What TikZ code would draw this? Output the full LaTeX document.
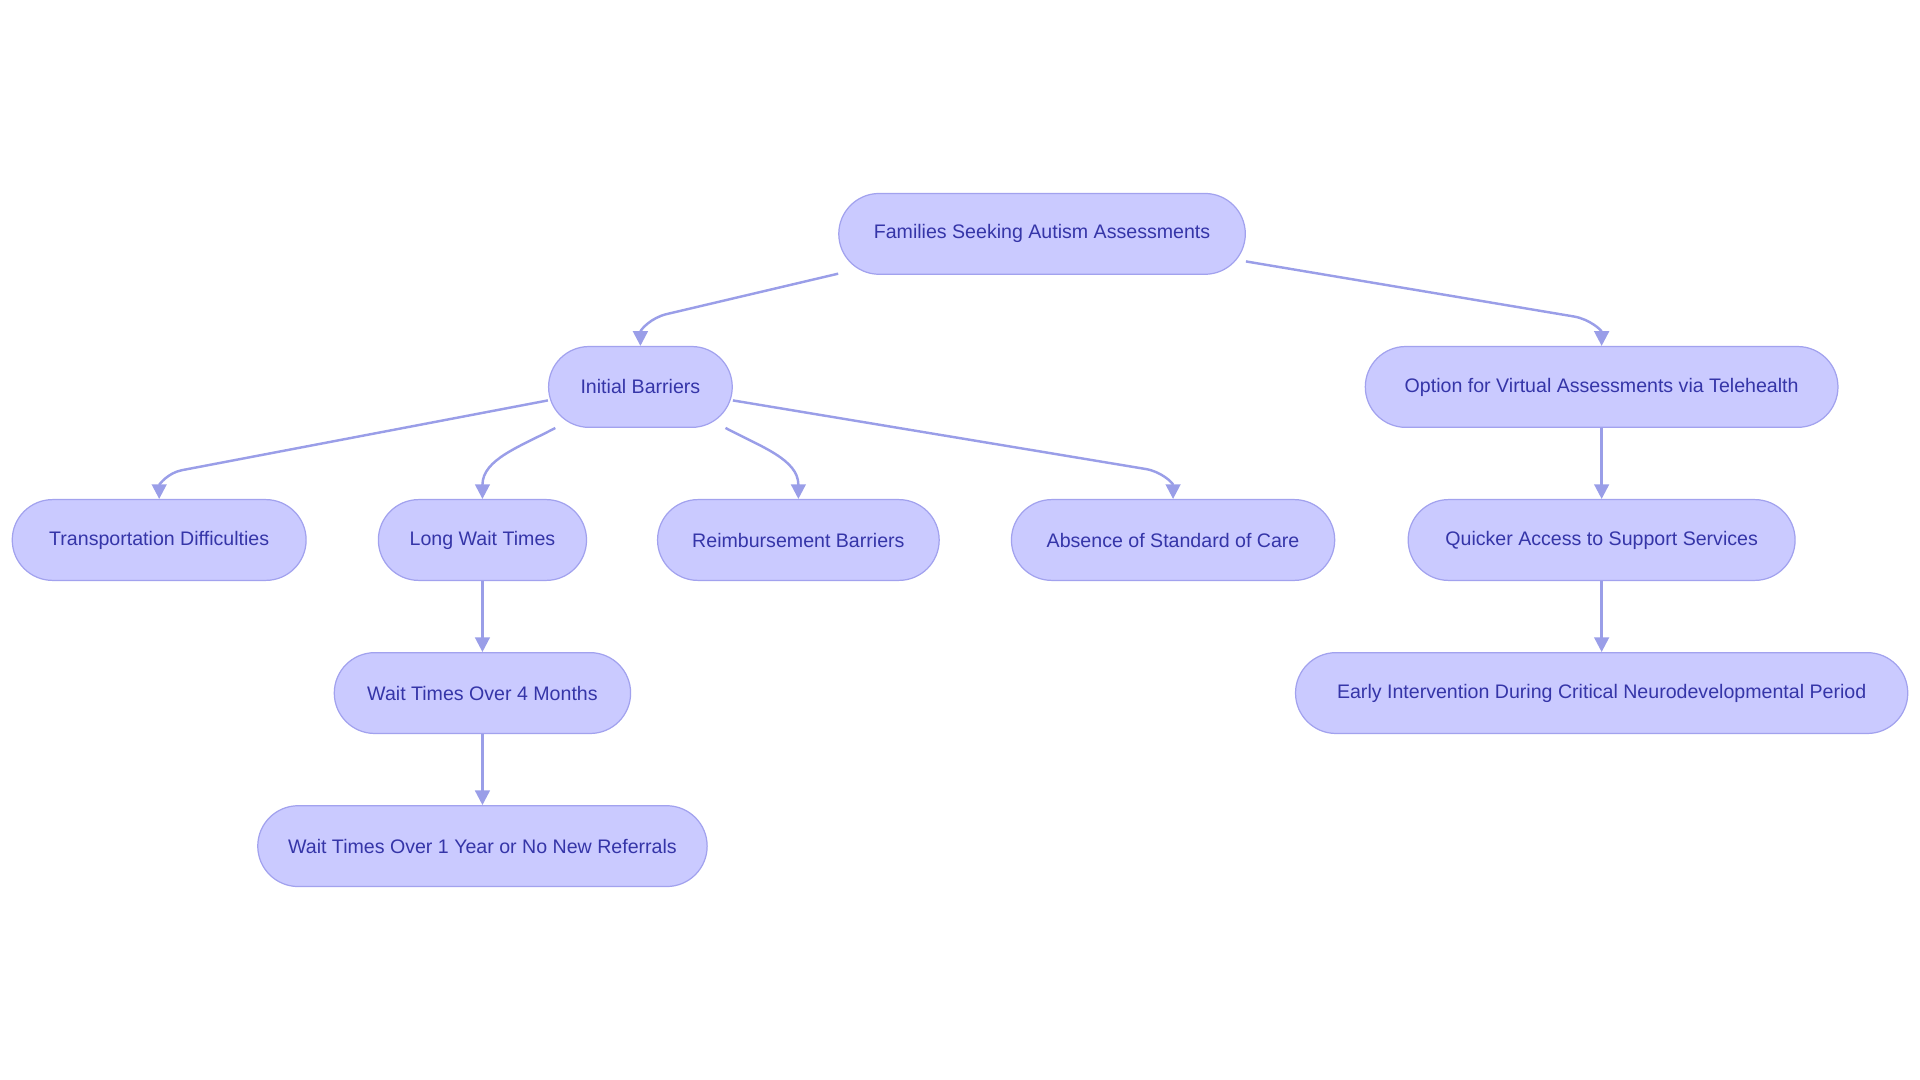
\documentclass[tikz,border=0pt]{standalone}
\usepackage{fontspec}
\setmainfont{Liberation Sans}
\usetikzlibrary{arrows.meta}
\definecolor{nfill}{HTML}{CACAFF}
\definecolor{nline}{HTML}{A2A2EE}
\definecolor{ntext}{HTML}{3535A8}
\definecolor{eline}{HTML}{9A9EE8}
\tikzset{
  box/.style={draw=nline, line width=1pt, fill=nfill, rounded corners=33pt, minimum height=66pt, text=ntext, font=\fontsize{16}{19}\selectfont, inner sep=0pt},
  edge/.style={draw=eline, line width=2pt, -{Triangle[length=12pt,width=12pt]}}
}
\begin{document}
\begin{tikzpicture}[x=1pt,y=1pt]
\useasboundingbox (0,0) rectangle (1568,-882);
\node[box, minimum width=332pt] (fam) at (851,-191) {Families Seeking Autism Assessments};
\node[box, minimum width=150pt] (ib) at (523,-316) {Initial Barriers};
\node[box, minimum width=386pt] (opt) at (1308,-316) {Option for Virtual Assessments via Telehealth};
\node[box, minimum width=240pt] (tr) at (130,-441) {Transportation Difficulties};
\node[box, minimum width=170pt] (lw) at (394,-441) {Long Wait Times};
\node[box, minimum width=230pt] (rb) at (652,-441) {Reimbursement Barriers};
\node[box, minimum width=264pt] (ab) at (958,-441) {Absence of Standard of Care};
\node[box, minimum width=316pt] (qa) at (1308,-441) {Quicker Access to Support Services};
\node[box, minimum width=242pt] (w4) at (394,-566) {Wait Times Over 4 Months};
\node[box, minimum width=367pt] (w1) at (394,-691) {Wait Times Over 1 Year or No New Referrals};
\node[box, minimum width=500pt] (ei) at (1308,-566) {Early Intervention During Critical Neurodevelopmental Period};

\draw[edge] ([yshift=1pt]fam.south west) -- ++(-140,-33) to[out=193,in=90] (ib.north);
\draw[edge] ([yshift=11pt]fam.south east) -- ++(268,-45) to[out=-10,in=90] (opt.north);
\draw[edge] ([yshift=-11pt]ib.west) -- ++(-299,-57) to[out=191,in=90] (tr.north);
\draw[edge] ([xshift=6pt]ib.south west) to[out=208,in=90] (lw.north);
\draw[edge] ([xshift=-6pt]ib.south east) to[out=-28,in=90] (rb.north);
\draw[edge] ([yshift=-11pt]ib.east) -- ++(337,-56) to[out=-9,in=90] (ab.north);
\draw[edge] (opt) -- (qa);
\draw[edge] (qa) -- (ei);
\draw[edge] (lw) -- (w4);
\draw[edge] (w4) -- (w1);
\end{tikzpicture}
\end{document}
